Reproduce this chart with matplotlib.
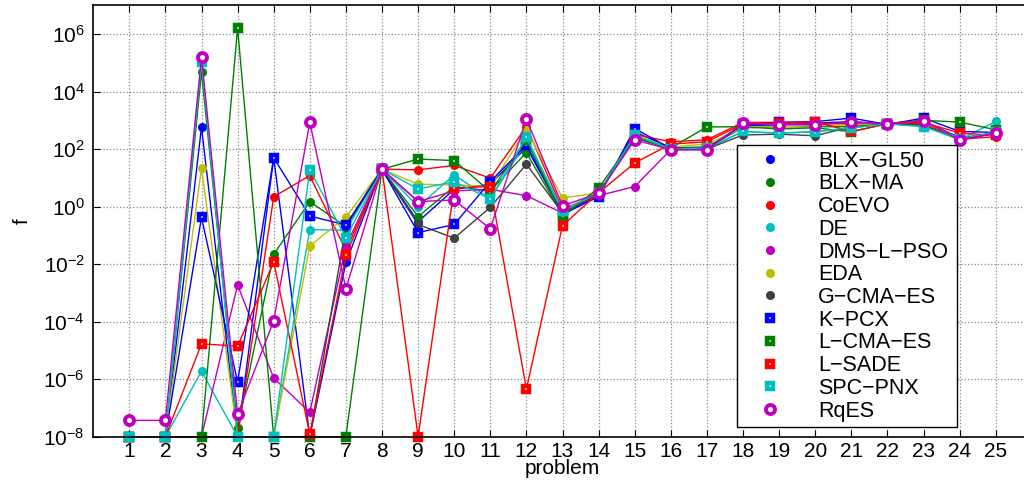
import numpy as np
import matplotlib.pyplot as plt
from matplotlib.lines import Line2D

plt.rcParams['font.family'] = ['Liberation Sans', 'DejaVu Sans']
plt.rcParams['mathtext.fontset'] = 'custom'
plt.rcParams['mathtext.rm'] = 'Liberation Sans'

# Problem index
problems = list(range(1, 26))

# Error values per algorithm (values below 1e-8 shown at 1e-8)
blx_gl50 = [1e-8, 1e-8, 580, 1e-8, 50, 1e-8, 0.0115, 20, 0.3, 4, 6, 115, 0.6, 2.5,
            400, 110, 110, 650, 700, 800, 900, 750, 950, 250, 350]
blx_ma = [1e-8, 1e-8, 4.8e4, 2e-8, 0.022, 1.5, 0.2, 20, 0.45, 5, 3.5, 76, 0.5, 2.6,
          300, 110, 120, 550, 600, 600, 600, 750, 950, 220, 350]
coevo = [1e-8, 1e-8, 1e-8, 1e-8, 2.2, 12, 0.03, 20, 19, 27, 9.8, 610, 0.8, 2.8,
         320, 180, 210, 850, 850, 850, 700, 760, 800, 220, 270]
de = [1e-8, 1e-8, 1.9e-6, 1e-8, 1e-8, 0.16, 0.15, 20, 1.0, 12.7, 1.85, 180, 0.72, 2.8,
      260, 100, 100, 410, 360, 400, 550, 760, 650, 210, 920]
dms_l_pso = [1e-8, 1e-8, 1e-8, 1.9e-3, 1.1e-6, 7e-8, 0.043, 20, 1.5, 3.5, 4, 2.4, 0.6, 2.4,
             5, 95, 95, 700, 750, 750, 800, 780, 1000, 200, 360]
eda = [1e-8, 1e-8, 22, 1e-8, 1e-8, 0.043, 0.43, 20, 6, 5.7, 5, 470, 2.0, 3.0,
       280, 120, 150, 550, 600, 650, 700, 760, 900, 230, 360]
g_cma_es = [1e-8, 1e-8, 1e-8, 1e-8, 1e-8, 1e-8, 0.2, 20, 0.24, 0.08, 0.95, 30, 0.6, 2.8,
            250, 100, 100, 310, 330, 290, 600, 740, 700, 210, 370]
k_pcx = [1e-8, 1e-8, 0.42, 8e-7, 50, 0.47, 0.23, 20, 0.125, 0.24, 7.4, 140, 0.55, 2.2,
         520, 105, 105, 700, 850, 900, 1200, 720, 1200, 410, 380]
l_cma_es = [1e-8, 1e-8, 1e-8, 1.6e6, 1e-8, 1e-8, 1e-8, 20, 45, 40, 3.3, 210, 0.47, 4.4,
            260, 110, 590, 600, 500, 550, 400, 760, 1000, 870, 470]
l_sade = [1e-8, 1e-8, 1.7e-5, 1.4e-5, 0.012, 1.2e-8, 0.02, 20, 1e-8, 4.4, 5, 4.5e-7, 0.22, 3.0,
          33, 150, 180, 750, 800, 900, 410, 760, 850, 360, 300]
spc_pnx = [1e-8, 1e-8, 1.1e5, 1e-8, 1e-8, 19, 0.083, 20, 4.1, 7.4, 1.85, 260, 0.72, 3.0,
           300, 100, 110, 410, 360, 400, 550, 740, 600, 220, 400]
rqes = [3.7e-8, 3.7e-8, 1.6e5, 6e-8, 1.07e-4, 850, 1.4e-3, 20, 1.5, 1.7, 0.17, 1100, 1.07, 2.9,
        210, 95, 95, 800, 700, 700, 870, 760, 980, 210, 360]

names = ['BLX\u2212GL50', 'BLX\u2212MA', 'CoEVO', 'DE', 'DMS\u2212L\u2212PSO', 'EDA',
         'G\u2212CMA\u2212ES', 'K\u2212PCX', 'L\u2212CMA\u2212ES', 'L\u2212SADE', 'SPC\u2212PNX', 'RqES']
series = [blx_gl50, blx_ma, coevo, de, dms_l_pso, eda, g_cma_es, k_pcx, l_cma_es,
          l_sade, spc_pnx, rqes]
colors = ['#0000ff', '#008000', '#ff0000', '#00bfbf', '#bf00bf', '#bfbf00', '#404040',
          '#0000ff', '#008000', '#ff0000', '#00bfbf', '#bf00bf']
markers = ['o'] * 7 + ['s'] * 4 + ['o']

fig = plt.figure(figsize=(10.24, 4.84), dpi=100)
ax = fig.add_axes([93.2 / 1024, 1 - 436.7 / 484, 938.6 / 1024, 431.4 / 484])

handles = []
for vals, name, c, m in zip(series, names, colors, markers):
    if name == 'RqES':
        kw = dict(marker='o', markersize=6.5, mfc='white', mec=c, mew=2.8)
    elif m == 's':
        kw = dict(marker='s', markersize=5.0, mfc='white', mec=c, mew=3.2)
    else:
        kw = dict(marker='o', markersize=5.5, mfc=c, mec=c, mew=1)
    ax.plot(problems, vals, color=c, lw=1.0, clip_on=False, **kw)
    handles.append(Line2D([], [], linestyle='none', color=c, label=name, **kw))

ax.set_yscale('log')
ax.set_ylim(1e-8, 1e7)
ax.set_xlim(0, 26)
ax.set_xticks(problems)
ax.set_yticks([1e-8, 1e-6, 1e-4, 1e-2, 1e0, 1e2, 1e4, 1e6])
ax.minorticks_off()
ax.tick_params(direction='in', top=True, right=True, labelsize=15, length=5, width=0.8)
ax.tick_params(axis='y', pad=6)
ax.grid(True, linestyle=':', color='#888888', linewidth=0.9)
for s in ax.spines.values():
    s.set_linewidth(1.2)

ax.set_xlabel('problem', fontsize=15, labelpad=-1)
ax.set_ylabel('f', fontsize=15, labelpad=8)

leg = ax.legend(handles=handles, loc='lower left', bbox_to_anchor=(0.686, 0.0225, 0.234, 0.645),
                mode='expand', fontsize=15.5, labelspacing=0.08, handletextpad=0.9,
                borderpad=0.25, borderaxespad=0, fancybox=False, framealpha=1,
                edgecolor='black', handlelength=2.6)
leg.get_frame().set_linewidth(1.0)

fig.savefig('out.png', dpi=100)
